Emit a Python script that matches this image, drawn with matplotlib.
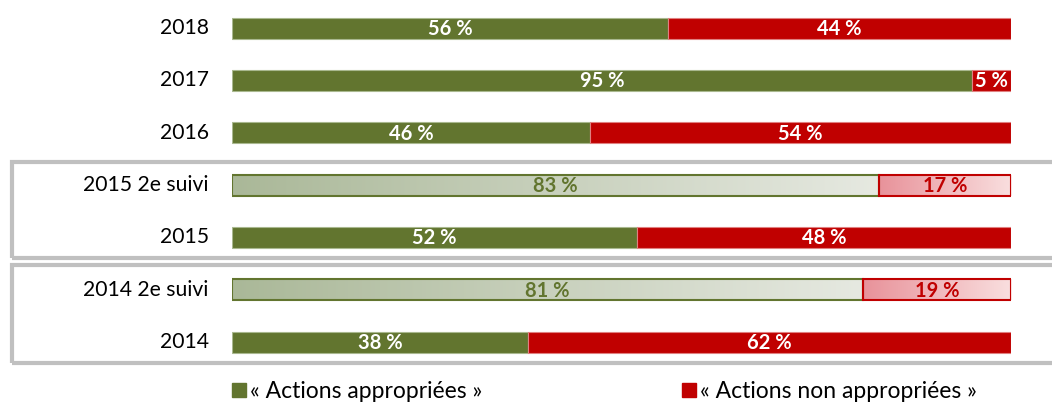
import numpy as np
import matplotlib.pyplot as plt
from matplotlib.patches import Rectangle

# Data (bottom to top)
labels = ['2014', '2014 2e suivi', '2015', '2015 2e suivi', '2016', '2017', '2018']
appropriate = [38, 81, 52, 83, 46, 95, 56]
not_appropriate = [62, 19, 48, 17, 54, 5, 44]
followup = [False, True, False, True, False, False, False]

green = '#62752f'
red = '#c00000'
font = ['Lato', 'DejaVu Sans']
plt.rcParams['font.family'] = font

W, H = 1052, 405
fig = plt.figure(figsize=(W / 100, H / 100), dpi=100)
ax = fig.add_axes([232 / W, 0, 779 / W, 1])

step = 52.33
y0 = 342
ax.set_ylim((y0 - H) / step, y0 / step)
ax.set_xlim(0, 100)
ax.axis('off')

h = 21 / step


def gradient_bar(left, width, y, c1, c2, edge):
    grad = np.linspace(0, 1, 256).reshape(1, -1)
    cmap = plt.matplotlib.colors.LinearSegmentedColormap.from_list('g', [c1, c2])
    ax.imshow(grad, extent=(left, left + width, y - h / 2, y + h / 2),
              aspect='auto', cmap=cmap, zorder=1)
    ax.add_patch(Rectangle((left, y - h / 2), width, h, fill=False,
                           edgecolor=edge, lw=1.5, zorder=2))


for i, lab in enumerate(labels):
    a, b = appropriate[i], not_appropriate[i]
    if followup[i]:
        gradient_bar(0, a, i, '#aab898', '#e6e9e1', green)
        gradient_bar(a, b, i, '#e8929a', '#f9dfdf', red)
        ca, cb = green, red
    else:
        ax.barh(i, a, height=h, color=green, edgecolor='#a9b88f', lw=0.8)
        ax.barh(i, b, left=a, height=h, color=red, edgecolor='#e08080', lw=0.8)
        ca, cb = 'white', 'white'
    ax.text(a / 2, i - 0.02, f'{a} %', ha='center', va='center', color=ca,
            fontsize=14.5, fontweight='bold')
    ax.text(a + b / 2, i - 0.02, f'{b} %', ha='center', va='center', color=cb,
            fontsize=14.5, fontweight='bold')
    ax.text(-3.0, i, lab, ha='right', va='center', fontsize=15.2, color='black')

ax.set_xlim(0, 100)
ax.set_ylim((y0 - H) / step, y0 / step)

# group frames
for top, bot in [(161.5, 258), (265, 362.5)]:
    fig.patches.append(Rectangle((12 / W, 1 - bot / H), 1.1, (bot - top) / H,
                                 transform=fig.transFigure, fill=False,
                                 edgecolor='#c0c0c0', lw=3))

# legend
for x, c, t in [(232, green, '« Actions appropriées »'),
                (682, red, '« Actions non appropriées »')]:
    fig.patches.append(Rectangle((x / W, 1 - 397 / H), 14 / W, 14 / H,
                                 transform=fig.transFigure, color=c))
    fig.text((x + 18) / W, 1 - 391 / H, t, ha='left', va='center',
             fontsize=16.5, color='black')

fig.savefig('out.png', dpi=100)
